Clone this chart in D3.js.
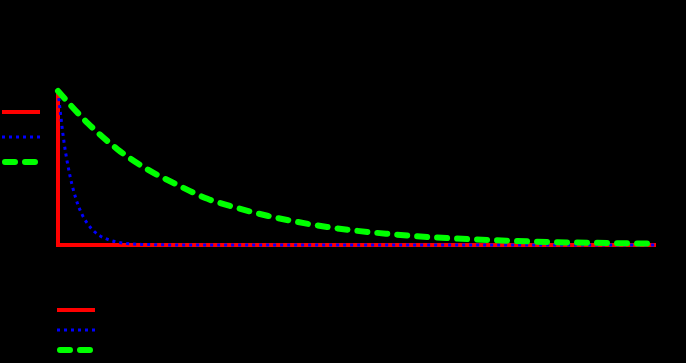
<!DOCTYPE html>
<html>
<head>
<meta charset="utf-8">
<script src="https://cdn.jsdelivr.net/npm/d3@7"></script>
<style>
  html, body { margin: 0; padding: 0; background: #000; }
  svg { display: block; }
</style>
</head>
<body>
<div id="chart"></div>
<script>
// Series values (x in arbitrary time units, y normalised)
var impulseX = [0, 0, 5];
var impulseY = [1, 0, 0];

var fastX = [0, 0.05, 0.1, 0.15, 0.2, 0.25, 0.3, 0.35, 0.4, 0.5, 0.6, 0.7, 0.8, 1.0, 1.25, 1.5, 2, 3, 4, 5];
var fastY = [1, 0.67, 0.45, 0.30, 0.20, 0.135, 0.09, 0.06, 0.041, 0.018, 0.008, 0.004, 0.002, 0.0004, 0, 0, 0, 0, 0, 0];

var slowX = [0, 0.25, 0.5, 0.75, 1, 1.25, 1.5, 1.75, 2, 2.25, 2.5, 2.75, 3, 3.25, 3.5, 3.75, 4, 4.25, 4.5, 4.75, 5];
var slowY = [1, 0.79, 0.62, 0.49, 0.39, 0.30, 0.24, 0.19, 0.15, 0.117, 0.092, 0.073, 0.057, 0.045, 0.036, 0.028, 0.022, 0.017, 0.014, 0.011, 0.009];

var seriesNames = ['impulse', 'fast decay', 'slow decay'];

var width = 686, height = 363;
var x0 = 58, x1 = 656, yTop = 91, yBottom = 245;

var svg = d3.select('#chart').append('svg')
    .attr('width', width)
    .attr('height', height);

var x = d3.scaleLinear().domain([0, 5]).range([x0, x1]);
var y = d3.scaleLinear().domain([0, 1]).range([yBottom, yTop]);

var styles = [
    { color: '#ff0000', width: 4, dash: null, cap: 'butt' },
    { color: '#0000ff', width: 3, dash: '3,4', cap: 'butt' },
    { color: '#00ff00', width: 6, dash: '10,10', cap: 'round' }
];

// Axes are black on the black background, as in the original
svg.append('g')
    .attr('transform', 'translate(0,' + yBottom + ')')
    .call(d3.axisBottom(x).ticks(5))
    .call(function(g) {
        g.selectAll('line,path').attr('stroke', '#000');
        g.selectAll('text').attr('fill', '#000');
    });
svg.append('g')
    .attr('transform', 'translate(' + x0 + ',0)')
    .call(d3.axisLeft(y).ticks(5))
    .call(function(g) {
        g.selectAll('line,path').attr('stroke', '#000');
        g.selectAll('text').attr('fill', '#000');
    });

// Two legends: one at the left, one under the plot (drawn under the lines)
function drawLegend(lx, ly, step, len) {
    var g = svg.append('g').attr('transform', 'translate(' + lx + ',' + ly + ')');
    seriesNames.forEach(function(name, i) {
        var st = styles[i];
        var item = g.append('g').attr('transform', 'translate(0,' + (i * step) + ')');
        item.append('text')
            .attr('x', len + 6)
            .attr('dy', '0.35em')
            .attr('font-family', 'DejaVu Sans')
            .attr('font-size', 11)
            .attr('fill', '#000')
            .text(name);
        item.append('line')
            .attr('x1', st.cap === 'round' ? 3 : 0)
            .attr('x2', len)
            .attr('stroke', st.color)
            .attr('stroke-width', st.width)
            .attr('stroke-dasharray', st.dash)
            .attr('stroke-linecap', st.cap);
    });
}

drawLegend(2, 112, 25, 38);
drawLegend(57, 310, 20, 38);

function toPoints(xs, ys) {
    return xs.map(function(v, i) { return [v, ys[i]]; });
}

var series = [
    { points: toPoints(impulseX, impulseY), curve: d3.curveLinear },
    { points: toPoints(fastX, fastY), curve: d3.curveMonotoneX },
    { points: toPoints(slowX, slowY), curve: d3.curveMonotoneX }
];

series.forEach(function(s, i) {
    var line = d3.line()
        .x(function(d) { return x(d[0]); })
        .y(function(d) { return y(d[1]); })
        .curve(s.curve);
    svg.append('path')
        .datum(s.points)
        .attr('fill', 'none')
        .attr('stroke', styles[i].color)
        .attr('stroke-width', styles[i].width)
        .attr('stroke-dasharray', styles[i].dash)
        .attr('stroke-linecap', styles[i].cap)
        .attr('d', line);
});
</script>
</body>
</html>
